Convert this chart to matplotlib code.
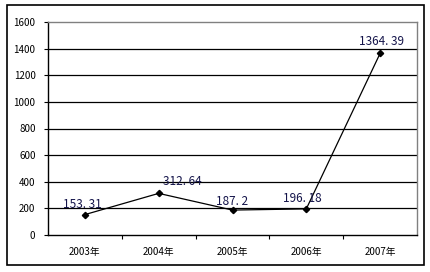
import matplotlib
matplotlib.use('Agg')
import matplotlib.pyplot as plt
from matplotlib.patches import Rectangle

plt.rcParams['font.family'] = ['Noto Sans CJK SC', 'DejaVu Sans']

years = ['2003年', '2004年', '2005年', '2006年', '2007年']
values = [153.31, 312.64, 187.2, 196.18, 1364.39]
labels = ['153. 31', '312. 64', '187. 2', '196. 18', '1364. 39']
# label offsets in pixels (dx, dy) from each point
offsets = [(-3, 10), (24, 12), (0, 9), (-4, 10), (1, 12)]

fig = plt.figure(figsize=(4.3, 2.72), dpi=100)
fig.patches.append(Rectangle((7 / 430, 1 - 265 / 272), 417 / 430, 260 / 272,
                             transform=fig.transFigure, fill=False,
                             edgecolor='black', linewidth=1.2))
ax = fig.add_axes([48 / 430, 1 - 235 / 272, 369 / 430, 213 / 272])

x = list(range(len(years)))
ax.plot(x, values, color='black', linewidth=0.9, marker='D', markersize=3.2)

for xi, v, lab, (dx, dy) in zip(x, values, labels, offsets):
    ax.annotate(lab, (xi, v), xytext=(dx, dy), textcoords='offset pixels',
                ha='center', va='center', fontsize=8.5, color='#14144a')

ax.set_ylim(0, 1600)
ax.set_yticks(range(0, 1601, 200))
ax.set_xlim(-0.5, 4.5)
ax.set_xticks(x)
ax.set_xticklabels(years)
ax.set_xticks([0.5, 1.5, 2.5, 3.5], minor=True)
ax.tick_params(axis='x', which='major', length=0, pad=9, labelsize=7)
ax.tick_params(axis='x', which='minor', length=3, direction='out', width=0.8)
ax.tick_params(axis='y', length=3, width=0.8, pad=6, labelsize=7)

for y in range(200, 1401, 200):
    ax.axhline(y, color='black', linewidth=0.9)

ax.spines['left'].set_color('black')
ax.spines['bottom'].set_color('black')
ax.spines['top'].set_color('#808080')
ax.spines['right'].set_color('#808080')
for s in ax.spines.values():
    s.set_linewidth(1.0)

fig.savefig('out.png', dpi=100)
